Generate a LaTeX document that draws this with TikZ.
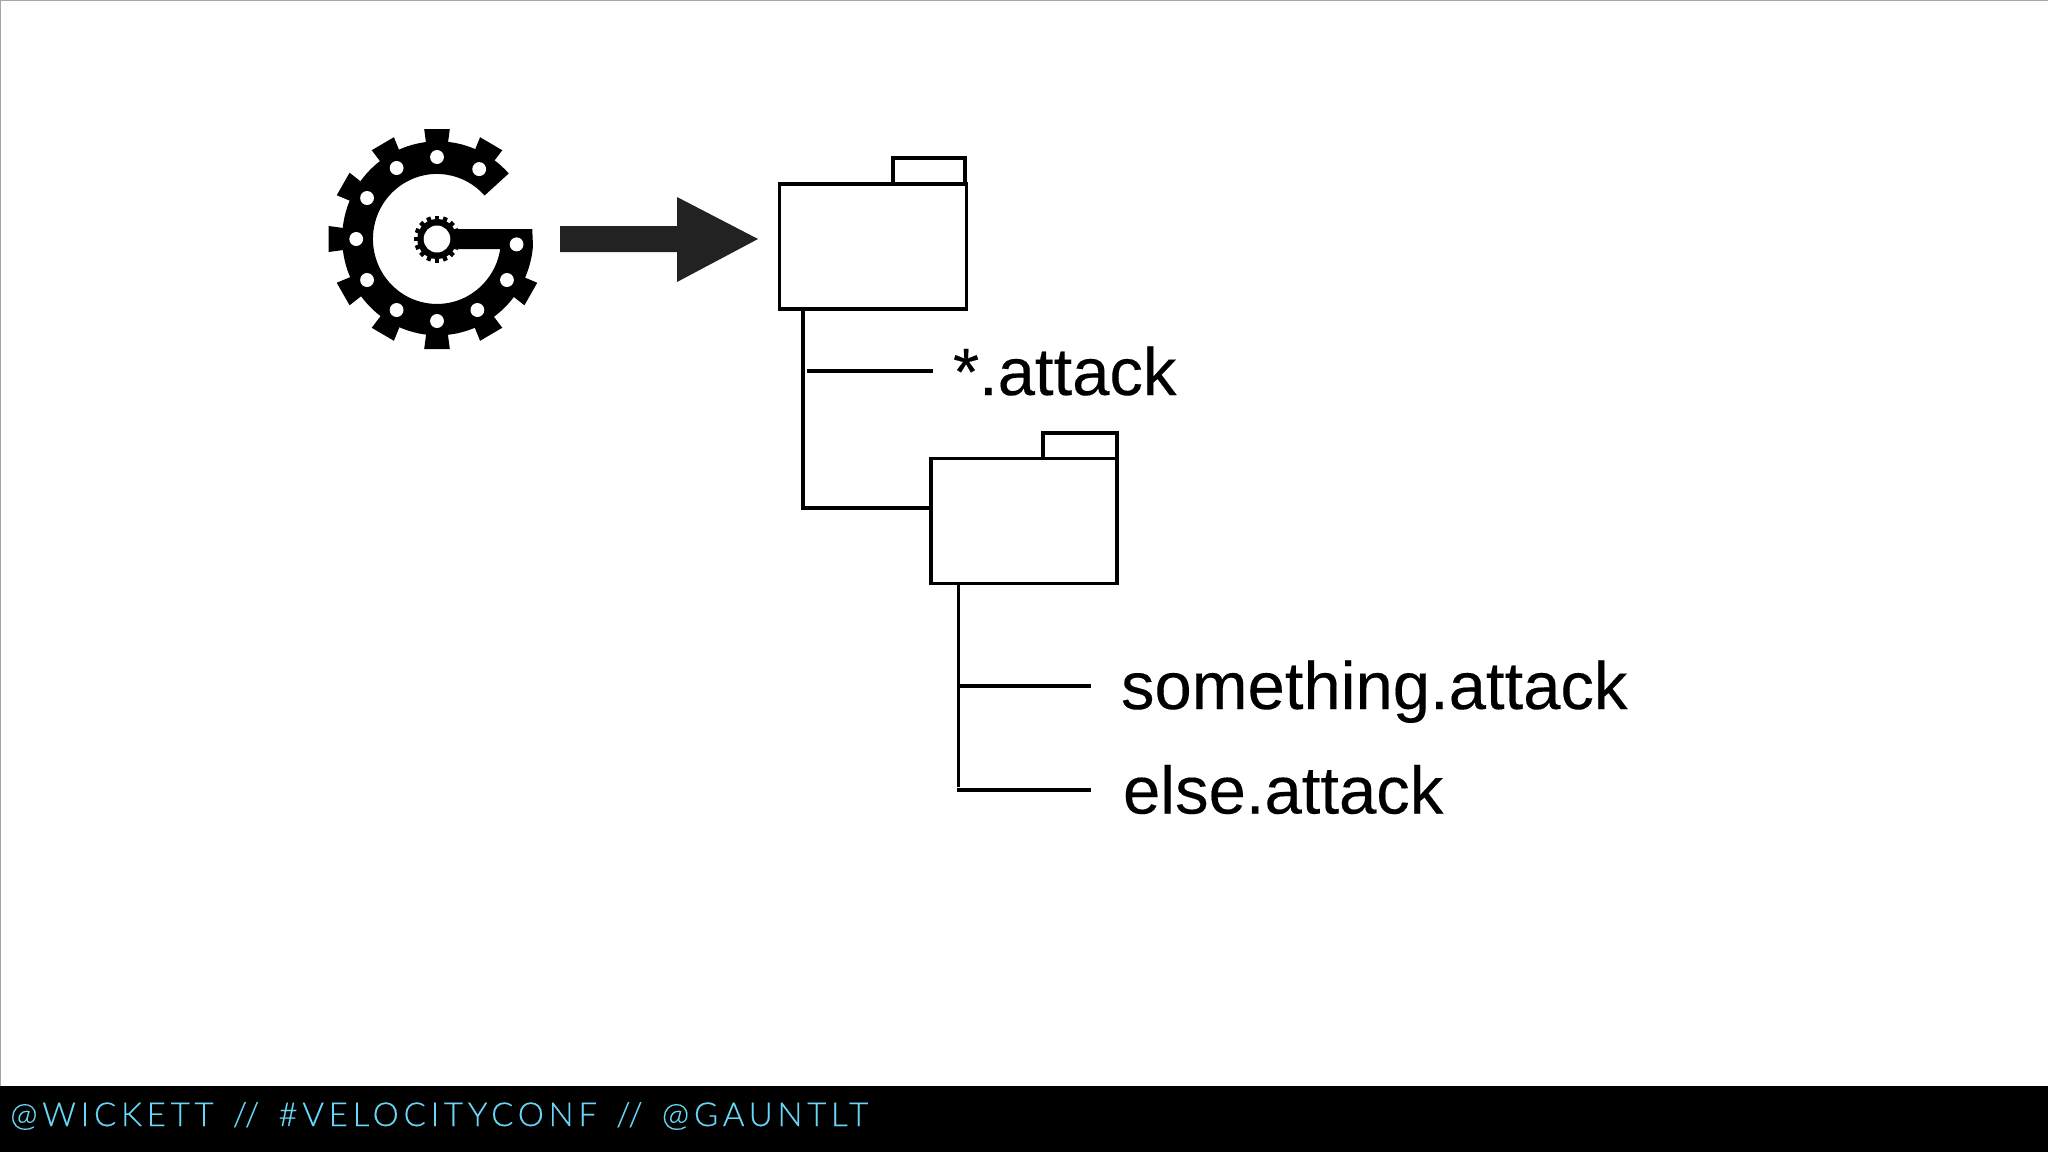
\documentclass[tikz,border=0pt]{standalone}
\usepackage{fontspec}
\setmainfont{Liberation Sans}
\newfontfamily\footfont[LetterSpace=14.4,WordSpace=1.4,FakeBold=0.3]{Lato Light}
\newfontfamily\labelfont[FakeBold=0.2]{Liberation Sans}
\definecolor{footcyan}{HTML}{68D6F6}
\definecolor{arrowgrey}{HTML}{222222}
\tikzset{
  folderbox/.style={draw=black,line width=3.2pt,fill=white,inner sep=0pt,outer sep=0pt,rectangle},
  conn/.style={draw=black,line width=3.2pt},
  filelabel/.style={anchor=base west,inner sep=0pt,outer sep=0pt,font=\fontsize{67}{67}\selectfont\labelfont,text=black},
}
\begin{document}
\begin{tikzpicture}[x=1pt,y=-1pt]
\useasboundingbox (0,0) rectangle (2048,1152);
\fill[white] (0,0) rectangle (2048,1152);
\draw[gray!70,line width=1pt] (0.5,1086) -- (0.5,0.5) -- (2047.5,0.5);
\fill[black] (0,1086) rectangle (2048,1152);
\node[anchor=base west,inner sep=0pt,text=footcyan,font=\fontsize{33}{33}\selectfont\footfont] (foot) at (10,1126) {@WICKETT // \#VELOCITYCONF // @GAUNTLT};
% gear logo
\begin{scope}[shift={(437,239)},x=1pt,y=1pt,xscale=0.985]
  \fill[black] (42:65) -- (42:98) arc[start angle=42,end angle=355.5,radius=97pt] -- (96.7,10) -- (15,10) -- (15,-10) -- (64.2,-10) arc[start angle=-8.9,end angle=-318,radius=65pt] -- cycle;
  \foreach \a in {60,90,120,150,180,210,240,270,300,330}{
    \fill[black,rotate=\a] (95,-11) -- (110,-13) -- (110,13) -- (95,11) -- cycle;
  }
  \foreach \a/\r in {90/82,58.5/82,120/82,150/82,180/82,210/82,240/82,270/82,300/82,330/82,-3.8/81}{
    \fill[white] (\a:\r) circle[radius=7pt];
  }
  \fill[black] (0,0) circle[radius=20pt];
  \foreach \a in {0,22.5,...,337.5}{
    \fill[black,rotate=\a] (18,-2.2) rectangle (23.5,2.2);
  }
  \fill[white] (0,0) circle[radius=13.5pt];
\end{scope}
% arrow
\fill[arrowgrey] (560,226) -- (677,226) -- (677,197) -- (758,239) -- (677,282) -- (677,252) -- (560,252) -- cycle;
% folders
\node[folderbox,minimum width=72pt,minimum height=30pt] (tab1) at (929,173) {};
\node[folderbox,minimum width=187pt,minimum height=125pt] (f1) at (873,246.5) {};
\node[folderbox,minimum width=74pt,minimum height=30pt] (tab2) at (1080,448) {};
\node[folderbox,minimum width=186pt,minimum height=125pt] (f2) at (1024,521) {};
% labels
\node[filelabel] (l1) at (953,395) {*.attack};
\node[filelabel] (l2) at (1121,709) {something.attack};
\node[filelabel] (l3) at (1123,813.5) {else.attack};
% connectors
\coordinate (c1) at (803,508);
\coordinate (b1a) at (807,371);
\coordinate (b1b) at (933,371);
\draw[conn] (f1.south -| c1) -- (c1) -- (c1 -| f2.west);
\draw[conn] (b1a) -- (b1b);
\coordinate (c2) at (958.5,787);
\coordinate (b2a) at (958.5,686);
\coordinate (b2b) at (1091,686);
\coordinate (b3a) at (957,790);
\coordinate (b3b) at (1091,790);
\draw[conn] (f2.south -| c2) -- (c2);
\draw[conn] (b2a) -- (b2b);
\draw[conn] (b3a) -- (b3b);
\end{tikzpicture}
\end{document}
